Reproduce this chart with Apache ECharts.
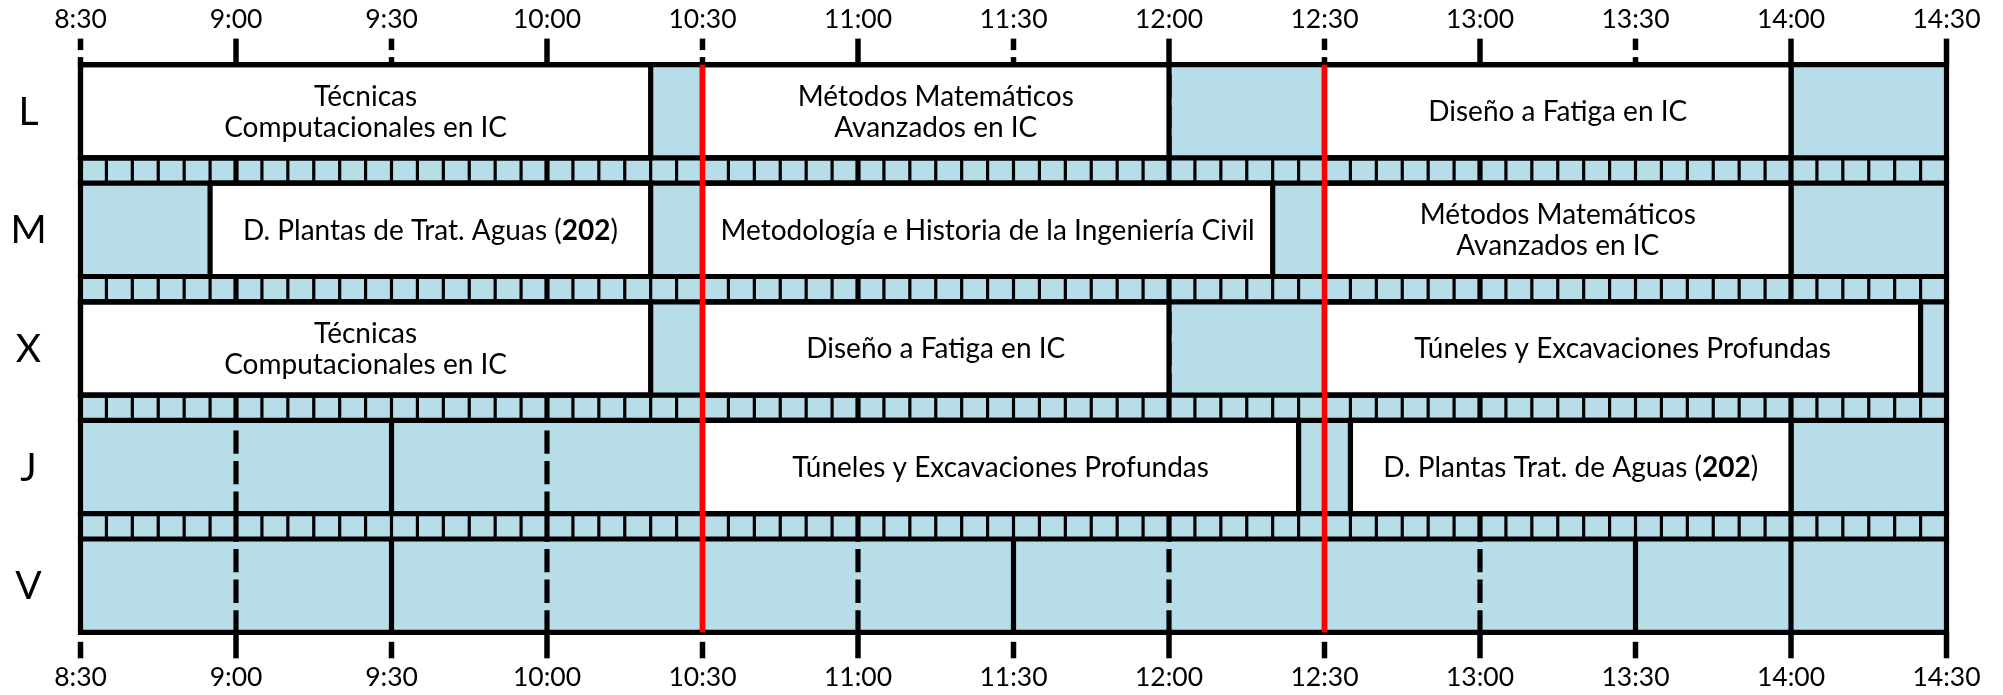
<!DOCTYPE html>
<html><head><meta charset="utf-8">
<script src="https://cdn.jsdelivr.net/npm/echarts@6/dist/echarts.min.js"></script>
<style>html,body{margin:0;padding:0;background:#fff}#c{width:2003px;height:695px}</style>
</head><body><div id="c"></div>
<script>
// ---------- data ----------
const days = ['L', 'M', 'X', 'J', 'V'];
const timeTicks = ['8:30','9:00','9:30','10:00','10:30','11:00','11:30','12:00','12:30','13:00','13:30','14:00','14:30'];
const solidTicks = ['9:00','10:00','11:00','12:00','13:00','14:00','14:30'];
const dashedGrid = ['9:00','10:00','11:00','12:00','13:00'];
const solidGrid = ['9:30','10:30','11:30','12:30','13:30','14:00'];
const redLines = ['10:30','12:30'];
const classDay   = [0, 0, 0, 1, 1, 1, 2, 2, 2, 3, 3];
const classStart = ['8:30','10:30','12:30','8:55','10:30','12:30','8:30','10:30','12:30','10:30','12:35'];
const classEnd   = ['10:20','12:00','14:00','10:20','12:20','14:00','10:20','12:00','14:25','12:25','14:00'];
const className  = [
  'Técnicas\nComputacionales en IC',
  'Métodos Matemáticos\nAvanzados en IC',
  'Diseño a Fatiga en IC',
  'D. Plantas de Trat. Aguas ({b|202})',
  'Metodología e Historia de la Ingeniería Civil',
  'Métodos Matemáticos\nAvanzados en IC',
  'Técnicas\nComputacionales en IC',
  'Diseño a Fatiga en IC',
  'Túneles y Excavaciones Profundas',
  'Túneles y Excavaciones Profundas',
  'D. Plantas Trat. de Aguas ({b|202})'
];

// ---------- layout / style ----------
const toMin = s => { const p = s.split(':'); return (+p[0]) * 60 + (+p[1]); };
const X0 = toMin(timeTicks[0]), X1 = toMin(timeTicks[timeTicks.length - 1]);
const ROW_H = 93.3, STRIP_H = 25.3, PITCH = ROW_H + STRIP_H;
const TOTAL = days.length * ROW_H + (days.length - 1) * STRIP_H;
const BLUE = '#b7dde8', INK = '#000000', RED = '#ff0000', LW = 5.2;
const FONT = 'Lato';
const BOX_FS = 28;

function seg(api, t, y0, y1, style) {
  const a = api.coord([t, y0]), b = api.coord([t, y1]);
  return { type: 'line', shape: { x1: a[0], y1: a[1], x2: b[0], y2: b[1] }, style: style };
}

const chart = echarts.init(document.getElementById('c'), null, { renderer: 'canvas' });

const labelFmt = v => { const i = Math.round((v - X0) / 30); return timeTicks[i] || ''; };
const axisCommon = {
  type: 'value', min: X0, max: X1, interval: 30,
  axisLine: { show: false }, axisTick: { show: false }, splitLine: { show: false },
  axisLabel: { formatter: labelFmt, fontSize: 26.5, fontFamily: FONT, color: INK, margin: 32, showMinLabel: true, showMaxLabel: true }
};

const gridData = [];
days.forEach((d, i) => {
  dashedGrid.forEach(t => gridData.push([toMin(t), i, 1]));
  solidGrid.forEach(t => gridData.push([toMin(t), i, 0]));
});

const option = {
  animation: false,
  grid: { left: 80.5, right: 56.5, top: 64.6, height: TOTAL },
  xAxis: [
    Object.assign({}, axisCommon, { position: 'top' }),
    Object.assign({}, axisCommon, { position: 'bottom' })
  ],
  yAxis: { type: 'value', min: 0, max: TOTAL, inverse: true, show: false },
  series: [
    { // blue background
      type: 'custom', z: 1, silent: true, data: [[X0, X1]],
      renderItem: (p, api) => {
        const a = api.coord([api.value(0), 0]), b = api.coord([api.value(1), TOTAL]);
        return { type: 'rect', shape: { x: a[0], y: a[1], width: b[0] - a[0], height: b[1] - a[1] }, style: { fill: BLUE } };
      }
    },
    { // grid lines inside rows
      type: 'custom', z: 2, silent: true, data: gridData,
      renderItem: (p, api) => {
        const t = api.value(0), d = api.value(1), dashed = api.value(2);
        return seg(api, t, d * PITCH, d * PITCH + ROW_H, {
          stroke: INK, lineWidth: LW,
          lineDash: dashed ? [23.3, 7.3] : null, lineDashOffset: 20.6
        });
      }
    },
    { // strips of 5-minute cells
      type: 'custom', z: 3, silent: true, data: days.slice(1).map((d, j) => [X0, j]),
      renderItem: (p, api) => {
        const j = api.value(1);
        const y0 = j * PITCH + ROW_H, y1 = y0 + STRIP_H;
        const children = [];
        for (let t = X0 + 5; t < X1; t += 5) {
          children.push(seg(api, t, y0, y1, { stroke: INK, lineWidth: (t % 60 === 0) ? LW : 3.2 }));
        }
        return { type: 'group', children: children };
      }
    },
    { // class boxes
      type: 'custom', z: 4, silent: true,
      data: classDay.map((d, i) => [toMin(classStart[i]), toMin(classEnd[i]), d]),
      renderItem: (p, api) => {
        const s = api.value(0), e = api.value(1), d = api.value(2);
        const a = api.coord([s, d * PITCH]), b = api.coord([e, d * PITCH + ROW_H]);
        return {
          type: 'group', children: [
            { type: 'rect', shape: { x: a[0], y: a[1], width: b[0] - a[0], height: b[1] - a[1] },
              style: { fill: '#ffffff', stroke: INK, lineWidth: LW } },
            { type: 'text', x: (a[0] + b[0]) / 2, y: (a[1] + b[1]) / 2 + 1,
              style: {
                text: className[p.dataIndex], fill: INK, fontSize: BOX_FS, fontFamily: FONT,
                align: 'center', verticalAlign: 'middle', lineHeight: 31,
                rich: { b: { fontWeight: 'bold', fontSize: BOX_FS, fontFamily: FONT, fill: INK, lineHeight: 31 } }
              } }
          ]
        };
      }
    },
    { // horizontal row borders
      type: 'custom', z: 5, silent: true, data: days.map((d, i) => [X0, i]),
      renderItem: (p, api) => {
        const i = api.value(1);
        const mk = y => {
          const a = api.coord([X0, y]), b = api.coord([X1, y]);
          return { type: 'line', shape: { x1: a[0], y1: a[1], x2: b[0], y2: b[1] }, style: { stroke: INK, lineWidth: LW, lineCap: 'square' } };
        };
        return { type: 'group', children: [mk(i * PITCH), mk(i * PITCH + ROW_H)] };
      }
    },
    { // left / right frame
      type: 'custom', z: 5, silent: true, data: [[X0], [X1]],
      renderItem: (p, api) => seg(api, api.value(0), 0, TOTAL, { stroke: INK, lineWidth: LW })
    },
    { // red lines
      type: 'custom', z: 6, silent: true, data: redLines.map(t => [toMin(t)]),
      renderItem: (p, api) => seg(api, api.value(0), 0, TOTAL, { stroke: RED, lineWidth: 5.5 })
    },
    { // outer ticks
      type: 'custom', z: 6, silent: true, clip: false,
      data: timeTicks.map(t => [toMin(t), solidTicks.indexOf(t) >= 0 ? 1 : 0]),
      renderItem: (p, api) => {
        const t = api.value(0), solid = api.value(1);
        const top = api.coord([t, 0]), bot = api.coord([t, TOTAL]);
        const L = (y0, y1) => ({ type: 'line', shape: { x1: top[0], y1: y0, x2: top[0], y2: y1 }, style: { stroke: INK, lineWidth: 5.5 } });
        const ch = [];
        if (solid) {
          ch.push(L(top[1] - 26, top[1]));
          ch.push(L(bot[1], bot[1] + 26));
        } else {
          ch.push(L(top[1] - 26, top[1] - 14.5));
          ch.push(L(top[1] - 7.5, top[1]));
          ch.push(L(bot[1] + 9.5, bot[1] + 26));
        }
        return { type: 'group', children: ch };
      }
    },
    { // day labels
      type: 'custom', z: 6, silent: true, clip: false, data: days.map((d, i) => [X0, i]),
      renderItem: (p, api) => {
        const i = api.value(1);
        const c = api.coord([X0, i * PITCH + ROW_H / 2]);
        return { type: 'text', x: c[0] - 52, y: c[1] + 1,
          style: { text: days[i], fill: INK, fontSize: 39, fontFamily: FONT, align: 'center', verticalAlign: 'middle' } };
      }
    }
  ]
};
chart.setOption(option);
</script>
</body></html>
